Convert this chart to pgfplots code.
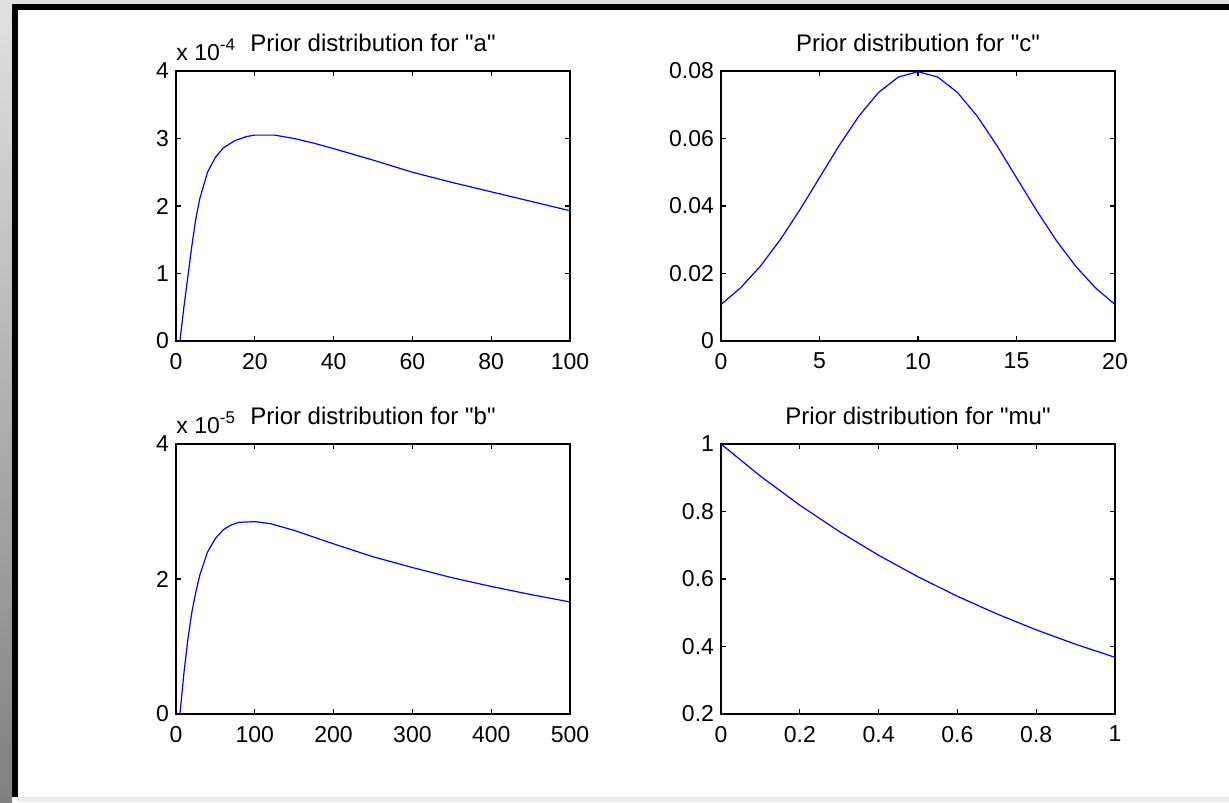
\documentclass[border=0pt]{standalone}
\usepackage{fontspec}
\setmainfont{Liberation Sans}[Ligatures=TeXOff]
\usepackage{pgfplots}
\pgfplotsset{compat=1.18}
\definecolor{mblue}{RGB}{0,0,255}
\pgfplotsset{
  mat/.style={
    scale only axis,
    width=197pt, height=135pt,
    axis line style={line width=0.7pt},
    tick align=inside,
    major tick length=2.6pt,
    tick style={line width=0.6pt, black},
    xtick pos=both, ytick pos=both,
    tick label style={font=\fontsize{11.5}{13}\selectfont},
    xticklabel style={yshift=-2.5pt},
    /pgf/number format/assume math mode=true,
    title style={font=\fontsize{12}{13}\selectfont, yshift=0pt},
    scaled ticks=false,
    every axis plot/.append style={line width=0.6pt, color=mblue, no marks},
    clip=false,
  },
}
\begin{document}
\begin{tikzpicture}
% window frame
\useasboundingbox (0,0) rectangle (614.5pt,401pt);
\fill[white] (0,0) rectangle (614.5pt,401pt);
\fill[black!12] (0,399pt) rectangle (614.5pt,401pt);
\fill[black] (6pt,396pt) rectangle (614.5pt,399pt);
\shade[top color=black!12, bottom color=black!50] (0,0) rectangle (6pt,399pt);
\fill[black] (6pt,2.5pt) rectangle (9pt,396pt);
\fill[black!8] (9pt,0) rectangle (614.5pt,2.5pt);

% prior for a
\begin{axis}[mat, at={(88pt,230.5pt)}, anchor=south west,
  xmin=0, xmax=100, ymin=0, ymax=4,
  xtick={0,20,40,60,80,100}, ytick={0,1,2,3,4},
  title={Prior distribution for "a"},
]
\addplot coordinates {
  (1,0) (2,0.5) (3,0.95) (4,1.4) (5,1.8) (6,2.1) (8,2.5) (10,2.72) (12,2.86)
  (15,2.97) (18,3.03) (20,3.05) (25,3.05) (30,3.0) (35,2.93) (40,2.85)
  (50,2.68) (60,2.5) (70,2.35) (80,2.21) (90,2.07) (100,1.93)};
\node[anchor=south west, inner sep=0pt, font=\fontsize{11.5}{13}\selectfont]
  at ([yshift=5pt]rel axis cs:0,1) {x 10\raisebox{0.8ex}{\fontsize{8.5}{9}\selectfont -4}};
\end{axis}

% prior for c
\begin{axis}[mat, at={(360.5pt,230.5pt)}, anchor=south west,
  xmin=0, xmax=20, ymin=0, ymax=0.08,
  xtick={0,5,10,15,20}, ytick={0,0.02,0.04,0.06,0.08},
  yticklabels={0,0.02,0.04,0.06,0.08},
  title={Prior distribution for "c"},
]
\addplot coordinates {
  (0,0.01080) (1,0.01579) (2,0.02218) (3,0.02995) (4,0.03884) (5,0.04839)
  (6,0.05794) (7,0.06665) (8,0.07366) (9,0.07821) (10,0.07979)
  (11,0.07821) (12,0.07366) (13,0.06665) (14,0.05794) (15,0.04839)
  (16,0.03884) (17,0.02995) (18,0.02218) (19,0.01579) (20,0.01080)};
\end{axis}

% prior for b
\begin{axis}[mat, at={(88pt,44pt)}, anchor=south west,
  xmin=0, xmax=500, ymin=0, ymax=4,
  xtick={0,100,200,300,400,500}, ytick={0,2,4},
  title={Prior distribution for "b"},
]
\addplot coordinates {
  (5,0) (10,0.6) (15,1.1) (20,1.5) (25,1.8) (30,2.05) (40,2.4) (50,2.6)
  (60,2.73) (70,2.8) (80,2.84) (100,2.85) (120,2.82) (150,2.72) (200,2.52)
  (250,2.33) (300,2.17) (350,2.02) (400,1.89) (450,1.77) (500,1.66)};
\node[anchor=south west, inner sep=0pt, font=\fontsize{11.5}{13}\selectfont]
  at ([yshift=5pt]rel axis cs:0,1) {x 10\raisebox{0.8ex}{\fontsize{8.5}{9}\selectfont -5}};
\end{axis}

% prior for mu
\begin{axis}[mat, at={(360.5pt,44pt)}, anchor=south west,
  xmin=0, xmax=1, ymin=0.2, ymax=1,
  xtick={0,0.2,0.4,0.6,0.8,1}, xticklabels={0,0.2,0.4,0.6,0.8,1},
  ytick={0.2,0.4,0.6,0.8,1}, yticklabels={0.2,0.4,0.6,0.8,1},
  title={Prior distribution for "mu"},
]
\addplot coordinates {
  (0,1) (0.1,0.9048) (0.2,0.8187) (0.3,0.7408) (0.4,0.6703) (0.5,0.6065)
  (0.6,0.5488) (0.7,0.4966) (0.8,0.4493) (0.9,0.4066) (1,0.3679)};
\end{axis}
\end{tikzpicture}
\end{document}
